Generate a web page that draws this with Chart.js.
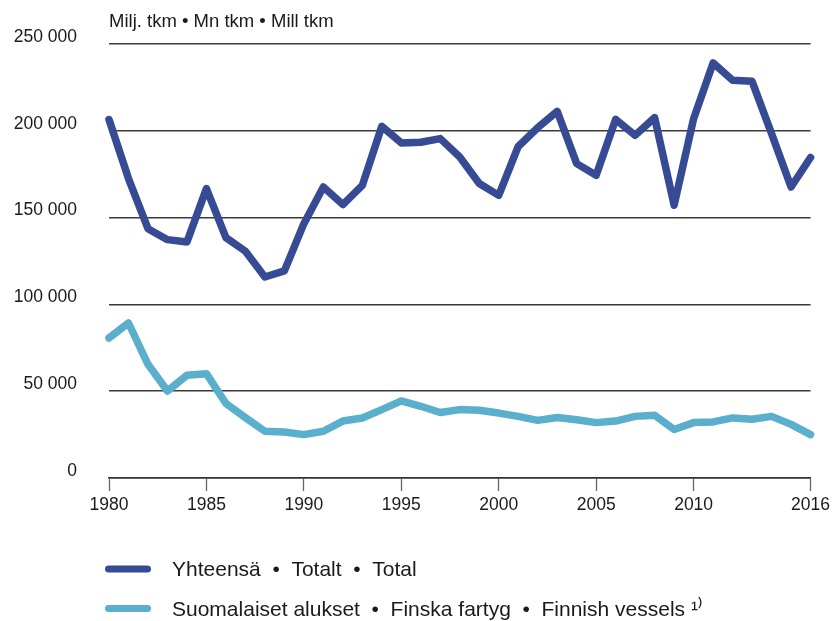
<!DOCTYPE html>
<html lang="fi">
<head>
<meta charset="UTF-8">
<script src="https://cdn.jsdelivr.net/npm/chart.js"></script>
<title>Tonnikilometrit</title>
<style>
  html, body { margin: 0; padding: 0; background: #fff; }
  #wrap { width: 834px; height: 621px; position: relative; }
</style>
</head>
<body>
<div id="wrap"><canvas id="chart"></canvas></div>
<script>
// years on the x axis
const years = [];
for (let y = 1980; y <= 2016; y++) years.push(y);
const tickYears = [1980, 1985, 1990, 1995, 2000, 2005, 2010, 2016];
const yTicks = [0, 50000, 100000, 150000, 200000, 250000];

// Yhteensä • Totalt • Total (milj. tkm)
const totalValues = [206500, 172500, 143600, 137300, 135900, 166700, 138500, 130600, 115800, 119300,
                     146500, 167600, 157500, 168600, 202600, 193000, 193400, 195500, 184900, 169600,
                     162800, 191000, 201800, 211200, 181100, 174400, 206600, 197400, 207600, 157100,
                     207000, 239100, 229100, 228500, 198400, 167600, 184600];
// Suomalaiset alukset • Finska fartyg • Finnish vessels
const finnishValues = [80600, 89300, 65500, 50100, 59200, 60100, 42900, 34800, 26900, 26500,
                       25000, 26900, 32800, 34600, 39400, 44400, 41300, 37700, 39400, 39000,
                       37400, 35500, 33200, 34800, 33600, 31900, 32800, 35500, 36100, 27900,
                       31900, 32300, 34600, 33800, 35500, 30900, 25000];

const seriesLabels = [
    'Yhteensä  •  Totalt  •  Total',
    'Suomalaiset alukset  •  Finska fartyg  •  Finnish vessels \u00B9\u207E'
];
const unitText = 'Milj. tkm • Mn tkm • Mill tkm';

const FONT = '"Liberation Sans", Arial, Helvetica, sans-serif';
const DARK = '#374a94';
const LIGHT = '#59afcc';

function toPoints(values) {
    return years.map((yr, i) => ({ x: yr, y: values[i] }));
}

function fmt(v) {
    return String(v).replace(/\B(?=(\d{3})+(?!\d))/g, ' ');
}

// unit text above the plot and the legend at the bottom
const decorations = {
    id: 'decorations',
    afterDraw(chart) {
        const ctx = chart.ctx;
        const area = chart.chartArea;
        ctx.save();
        ctx.fillStyle = '#1a1a1a';
        ctx.textBaseline = 'alphabetic';
        ctx.textAlign = 'left';
        ctx.font = '18.5px ' + FONT;
        ctx.fillText(unitText, area.left, 27);

        const rows = [569, 608.5];
        chart.data.datasets.forEach((ds, i) => {
            const y = rows[i];
            ctx.strokeStyle = ds.borderColor;
            ctx.lineWidth = 7;
            ctx.lineCap = 'round';
            ctx.beginPath();
            ctx.moveTo(108.5, y);
            ctx.lineTo(147.5, y);
            ctx.stroke();
            ctx.fillStyle = '#1a1a1a';
            ctx.font = '21px ' + FONT;
            ctx.fillText(ds.label, 172, y + 7);
        });
        ctx.restore();
    }
};

new Chart(document.getElementById('chart'), {
    type: 'line',
    data: {
        datasets: [
            {
                label: seriesLabels[0],
                data: toPoints(totalValues),
                borderColor: DARK,
                backgroundColor: DARK,
                borderWidth: 7.5,
                borderCapStyle: 'round',
                borderJoinStyle: 'round',
                pointRadius: 0,
                tension: 0,
                clip: false
            },
            {
                label: seriesLabels[1],
                data: toPoints(finnishValues),
                borderColor: LIGHT,
                backgroundColor: LIGHT,
                borderWidth: 7.5,
                borderCapStyle: 'round',
                borderJoinStyle: 'round',
                pointRadius: 0,
                tension: 0,
                clip: false
            }
        ]
    },
    options: {
        responsive: true,
        maintainAspectRatio: false,
        animation: false,
        layout: { padding: { top: 44, right: 21, bottom: 101, left: 0 } },
        plugins: {
            legend: { display: false },
            tooltip: { enabled: false }
        },
        scales: {
            x: {
                type: 'linear',
                min: 1980,
                max: 2016,
                afterBuildTicks: (scale) => {
                    scale.ticks = tickYears.map(v => ({ value: v }));
                },
                grid: {
                    display: true,
                    drawOnChartArea: false,
                    drawTicks: true,
                    tickLength: 13,
                    tickColor: '#666',
                    tickWidth: 1.3
                },
                border: { display: true, color: '#333', width: 1.5 },
                ticks: {
                    autoSkip: false,
                    maxRotation: 0,
                    padding: 4,
                    color: '#1a1a1a',
                    font: { family: FONT, size: 17.5 },
                    callback: (v) => String(v)
                }
            },
            y: {
                min: 0,
                max: 250000,
                afterBuildTicks: (scale) => {
                    scale.ticks = yTicks.map(v => ({ value: v }));
                },
                afterFit: (scale) => { scale.width = 109; },
                grid: {
                    drawTicks: false,
                    color: '#3a3a3a',
                    lineWidth: 1.5
                },
                border: { display: false },
                ticks: {
                    padding: 32,
                    labelOffset: -7,
                    color: '#1a1a1a',
                    font: { family: FONT, size: 17.5 },
                    callback: (v) => fmt(v)
                }
            }
        }
    },
    plugins: [decorations]
});
</script>
</body>
</html>
